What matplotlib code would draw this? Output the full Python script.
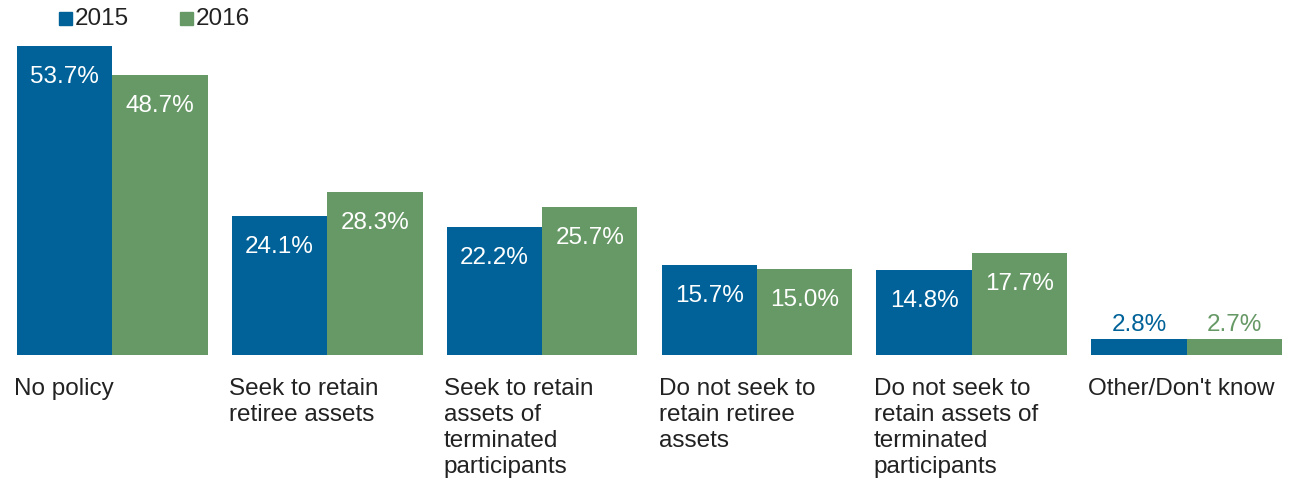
import matplotlib
matplotlib.use("Agg")
import matplotlib.pyplot as plt
import numpy as np

plt.rcParams['font.family'] = ['Liberation Sans', 'DejaVu Sans']

categories = [
    "No policy",
    "Seek to retain\nretiree assets",
    "Seek to retain\nassets of\nterminated\nparticipants",
    "Do not seek to\nretain retiree\nassets",
    "Do not seek to\nretain assets of\nterminated\nparticipants",
    "Other/Don't know",
]
series_names = ["2015", "2016"]
values_2015 = [53.7, 24.1, 22.2, 15.7, 14.8, 2.8]
values_2016 = [48.7, 28.3, 25.7, 15.0, 17.7, 2.7]
colors = ["#006298", "#669966"]

W, H = 1292, 481
fig = plt.figure(figsize=(W / 100, H / 100), dpi=100)
ax_h = 60 * 5.754 / H
ax = fig.add_axes([17 / W, (H - 356) / H, (1282 - 17) / W, ax_h])

x = np.arange(len(categories))
w = 0.444
fs = 17.5
for k, vals in enumerate([values_2015, values_2016]):
    pos = x - w / 2 + k * w
    ax.bar(pos, vals, width=w, color=colors[k], edgecolor="none")
    for p, v in zip(pos, vals):
        if v > 8:
            ax.annotate(f"{v:.1f}%", (p, v), xytext=(0, -21.5), textcoords="offset points",
                        ha="center", va="center", color="white", fontsize=fs)
        else:
            ax.annotate(f"{v:.1f}%", (p, v), xytext=(0, 11), textcoords="offset points",
                        ha="center", va="center", color=colors[k], fontsize=fs)

ax.set_xlim(-w, len(categories) - 1 + w)
ax.set_ylim(0, 60)
ax.axis("off")

for i, c in enumerate(categories):
    ax.annotate(c, (i - w, 0), xytext=(-2, -15.5), textcoords="offset points",
                ha="left", va="top", fontsize=fs, color="#222222", linespacing=1.24)

# legend
for k, (name, xs) in enumerate(zip(series_names, [59, 180])):
    fig.patches.append(plt.Rectangle((xs / W, (H - 26) / H), 13 / W, 13 / H,
                                     transform=fig.transFigure, color=colors[k]))
    fig.text((xs + 16) / W, (H - 19) / H, name, fontsize=fs, va="center",
             ha="left", color="#222222")

fig.savefig("out.png", dpi=100)
